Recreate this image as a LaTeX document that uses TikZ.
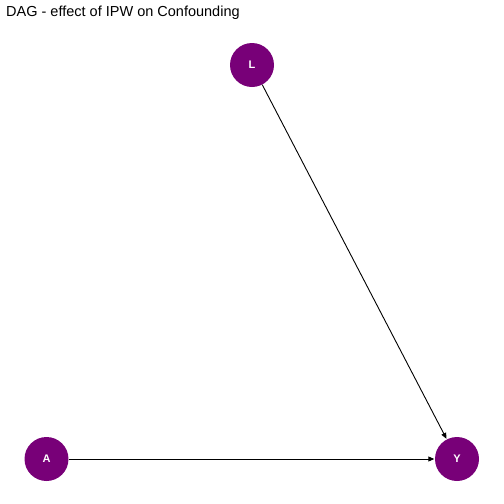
\documentclass[tikz,border=0pt]{standalone}
\usepackage{fontspec}
\setmainfont{Liberation Sans}
\usetikzlibrary{arrows.meta, positioning}
\definecolor{dagpurple}{HTML}{780078}
\tikzset{
  dagnode/.style={circle, fill=dagpurple, minimum size=44pt, inner sep=0pt,
    text=white, font=\fontsize{11}{13}\selectfont\bfseries},
  dagedge/.style={-{Triangle[length=6pt,width=5pt]}, line width=0.9pt, black, shorten >=0.5pt}
}
\begin{document}
\begin{tikzpicture}[x=1pt,y=-1pt]
\useasboundingbox (0,0) rectangle (504,504);
\node at (6,13) [anchor=west, font=\fontsize{14.5}{16}\selectfont, inner sep=0pt] (title) {DAG - effect of IPW on Confounding};
\node at (252,65) [dagnode] (L) {L};
\node at (46.5,459) [dagnode] (A) {A};
\node at (457,459) [dagnode] (Y) {Y};
\draw [dagedge] (L) -- (Y);
\draw [dagedge] (A) -- (Y);
\end{tikzpicture}
\end{document}
